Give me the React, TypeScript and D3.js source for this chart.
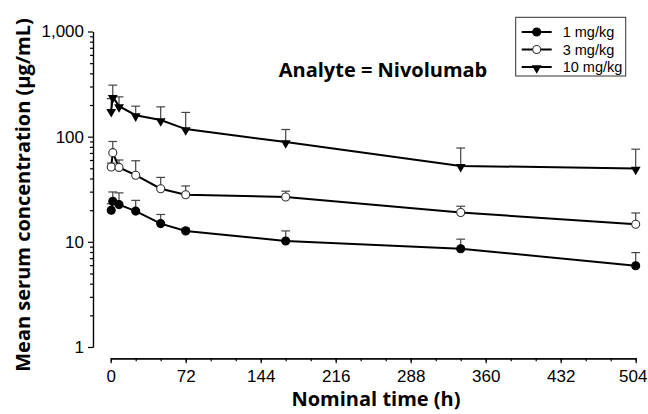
import React, { useEffect, useRef } from "react";
import * as d3 from "d3";

// nominal sampling times (h)
const times = [0.5, 2, 8, 24, 48, 72, 168, 336, 504];

// mean serum concentration (ug/mL) and upper error bar end, per dose
const mean1 = [20, 24.3, 22.6, 19.6, 14.9, 12.7, 10.2, 8.6, 5.93];
const upper1 = [23, 29.8, 29.2, 24.8, 18.2, 13.5, 12.7, 10.6, 7.9];
const mean3 = [51.5, 70.5, 51, 43, 32, 28, 26.7, 19, 14.7];
const upper3 = [56, 90, 60, 59, 41, 34, 30.3, 21.8, 18.8];
const mean10 = [176, 239, 195, 160, 144, 118, 89, 52.7, 49.8];
const upper10 = [230, 309, 239, 195, 192, 170, 117, 78, 76];

const doseLabels = ["1 mg/kg", "3 mg/kg", "10 mg/kg"];
const xTickValues = [0, 72, 144, 216, 288, 360, 432, 504];
const xMinorValues = d3.range(0, 505, 24);
const yTickValues = [1, 10, 100, 1000];

const W = 648;
const H = 414;

export default function App() {
  const ref = useRef<SVGSVGElement>(null);

  useEffect(() => {
    const svg = d3.select(ref.current);
    svg.selectAll("*").remove();

    const x = d3.scaleLinear().domain([0, 504]).range([110.7, 635.7]);
    const y = d3.scaleLog().domain([1, 1000]).range([347, 31.5]);

    const tickFont = "'Liberation Sans', Arial, sans-serif";
    const titleFont = "'Open Sans', Lato, sans-serif";

    // x axis (detached below the plot)
    const gx = svg.append("g").attr("transform", "translate(0,358.3)");
    gx.call(
      d3.axisBottom(x).tickValues(xMinorValues).tickSize(3).tickSizeOuter(0).tickFormat(() => "")
    );
    gx.append("g").call(
      d3.axisBottom(x).tickValues(xTickValues).tickSize(5).tickSizeOuter(0).tickPadding(7).tickFormat(d3.format("d"))
    );
    gx.selectAll("path.domain").attr("stroke-width", 1.2);
    gx.selectAll("line").attr("stroke-width", 1.2);
    gx.selectAll("text")
      .attr("font-family", tickFont)
      .attr("font-size", 17)
      .attr("fill", "#000");
    // last label sits at the right edge, nudge it in
    gx.selectAll("text").filter((d: any) => d === 504).attr("dx", -3);

    // y axis (log)
    const minor: number[] = [];
    [1, 10, 100].forEach(d => {
      for (let k = 2; k <= 9; k++) minor.push(d * k);
    });
    const gy = svg.append("g").attr("transform", "translate(93,0)");
    gy.call(
      d3.axisLeft(y).tickValues(minor).tickSize(3).tickSizeOuter(0).tickFormat(() => "")
    );
    gy.append("g").call(
      d3.axisLeft(y).tickValues(yTickValues).tickSize(5).tickSizeOuter(0).tickPadding(4).tickFormat(d3.format(","))
    );
    gy.selectAll("path.domain").attr("stroke-width", 1.2);
    gy.selectAll("line").attr("stroke-width", 1.2);
    gy.selectAll("text")
      .attr("font-family", tickFont)
      .attr("font-size", 17)
      .attr("fill", "#000");

    // axis titles
    svg.append("text")
      .attr("x", 376)
      .attr("y", 406)
      .attr("text-anchor", "middle")
      .attr("font-family", titleFont)
      .attr("font-weight", "bold")
      .attr("font-size", 20)
      .text("Nominal time (h)");

    svg.append("text")
      .attr("transform", "translate(30,195) rotate(-90)")
      .attr("text-anchor", "middle")
      .attr("font-family", titleFont)
      .attr("font-weight", "bold")
      .attr("font-size", 20)
      .text("Mean serum concentration (µg/mL)");

    svg.append("text")
      .attr("x", 383)
      .attr("y", 77)
      .attr("text-anchor", "middle")
      .attr("font-family", titleFont)
      .attr("font-weight", "bold")
      .attr("font-size", 20)
      .text("Analyte = Nivolumab");

    const series = [
      { mean: mean1, upper: upper1, kind: "filled" },
      { mean: mean3, upper: upper3, kind: "open" },
      { mean: mean10, upper: upper10, kind: "tri" },
    ];

    const line = d3.line<number>()
      .x((_, i) => x(times[i]))
      .y(d => y(d));

    const tri = d3.symbol().type(d3.symbolTriangle).size(42);

    const marker = (g: any, kind: string, cx: number, cy: number) => {
      if (kind === "tri") {
        g.append("path")
          .attr("d", tri())
          .attr("transform", `translate(${cx},${cy + 1}) rotate(180)`)
          .attr("fill", "#000");
      } else {
        g.append("circle")
          .attr("cx", cx)
          .attr("cy", cy)
          .attr("r", 4)
          .attr("fill", kind === "open" ? "#fff" : "#000")
          .attr("stroke", kind === "open" ? "#333" : "#000")
          .attr("stroke-width", 1.1);
      }
    };

    series.forEach(s => {
      // error bars (upper only)
      const eb = svg.append("g").attr("stroke", "#444").attr("stroke-width", 1.2);
      s.mean.forEach((m, i) => {
        const cx = x(times[i]);
        eb.append("line")
          .attr("x1", cx).attr("x2", cx)
          .attr("y1", y(m)).attr("y2", y(s.upper[i]));
        eb.append("line")
          .attr("x1", cx - 4.4).attr("x2", cx + 4.4)
          .attr("y1", y(s.upper[i])).attr("y2", y(s.upper[i]));
      });

      svg.append("path")
        .attr("d", line(s.mean))
        .attr("fill", "none")
        .attr("stroke", "#000")
        .attr("stroke-width", 2);

      const mg = svg.append("g");
      s.mean.forEach((m, i) => marker(mg, s.kind, x(times[i]), y(m)));
    });

    // legend
    const lg = svg.append("g");
    lg.append("rect")
      .attr("x", 515.7)
      .attr("y", 17.3)
      .attr("width", 110)
      .attr("height", 58.7)
      .attr("fill", "#fff")
      .attr("stroke", "#333")
      .attr("stroke-width", 1);
    const rowY = [32, 49.5, 67];
    series.forEach((s, i) => {
      lg.append("line")
        .attr("x1", 521.7).attr("x2", 551.7)
        .attr("y1", rowY[i]).attr("y2", rowY[i])
        .attr("stroke", "#000")
        .attr("stroke-width", 2);
      marker(lg, s.kind, 536.7, rowY[i]);
      lg.append("text")
        .attr("x", 562.7)
        .attr("y", rowY[i])
        .attr("dy", "0.36em")
        .attr("font-family", tickFont)
        .attr("font-size", 14.5)
        .attr("fill", "#000")
        .text(doseLabels[i]);
    });
  }, []);

  return (
    <svg
      ref={ref}
      width={W}
      height={H}
      style={{ position: "absolute", left: 0, top: 0, background: "#fff" }}
    />
  );
}
